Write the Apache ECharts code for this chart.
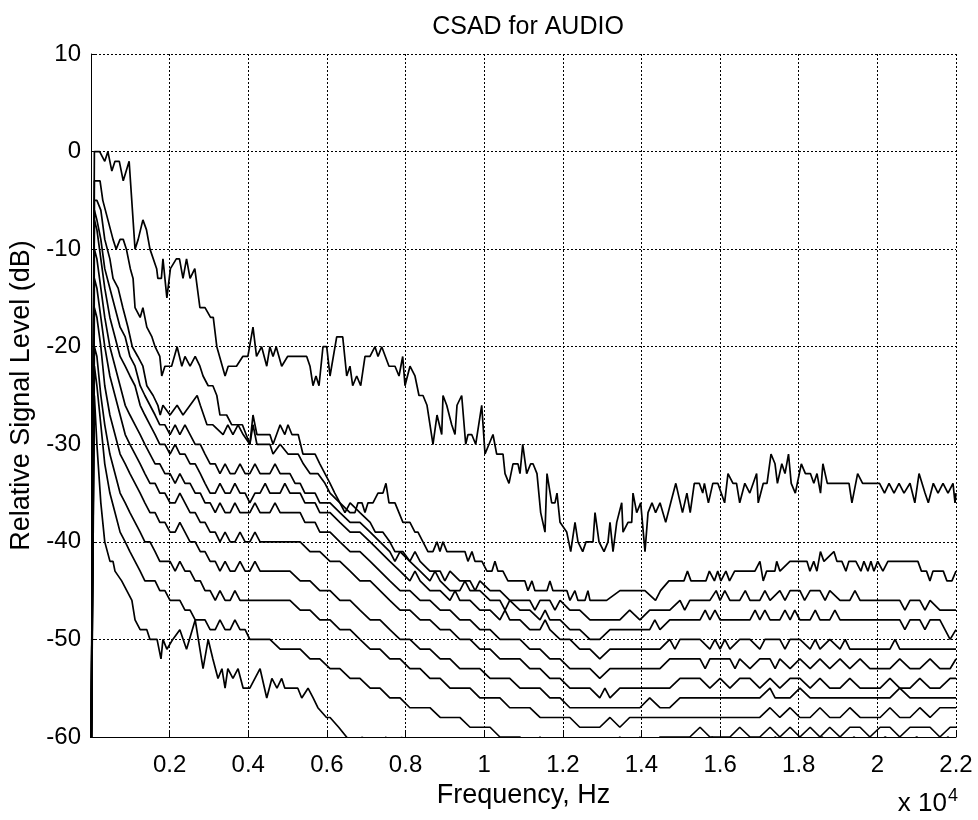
<!DOCTYPE html>
<html>
<head>
<meta charset="utf-8">
<script src="https://cdn.jsdelivr.net/npm/echarts@6/dist/echarts.min.js"></script>
<style>
html,body{margin:0;padding:0;background:#fff;}
#chart{width:978px;height:820px;}
</style>
</head>
<body>
<div id="chart"></div>
<script>
// ---- Data: [frequency Hz, relative level dB] ----
const titleText = "CSAD for AUDIO";
const xLabel = "Frequency, Hz";
const yLabel = "Relative Signal Level (dB)";
const xTickScale = 10000; // labels shown as x 10^4
const yTicks = [10, 0, -10, -20, -30, -40, -50, -60];

const curve1 = [[0,-65],[86,0],[220,0],[350,-1],[430,0],[530,-2],[610,-1],[720,-1],[820,-3],[970,-1],[1120,-10],[1200,-9],[1320,-7],[1410,-8],[1500,-10],[1670,-12],[1700,-13],[1790,-13],[1830,-11],[1930,-15],[2020,-12],[2170,-11],[2250,-11],[2340,-13],[2430,-11],[2520,-13],[2640,-12],[2770,-16],[2900,-16],[3040,-17],[3110,-17],[3200,-20],[3410,-23],[3490,-22],[3700,-22],[3860,-21],[3990,-21],[4120,-18],[4210,-21],[4340,-20],[4470,-22],[4550,-20],[4630,-21],[4710,-20],[4850,-22],[5000,-21],[5150,-21],[5316,-21],[5486,-21],[5570,-22],[5646,-24],[5722,-23],[5799,-24],[5900,-20],[5995,-20],[6079,-23],[6249,-19],[6402,-19],[6504,-23],[6587,-22],[6656,-24],[6758,-23],[6860,-24],[6969,-21],[7096,-21],[7223,-20],[7300,-21],[7394,-20],[7579,-22],[7732,-22],[7834,-23],[7928,-21],[7986,-24],[8113,-22],[8240,-23],[8342,-25],[8444,-25],[8546,-26],[8622,-28],[8698,-30],[8800,-27],[8920,-29],[8953,-25],[9047,-26],[9174,-28],[9258,-29],[9309,-26],[9428,-25],[9530,-30],[9589,-29],[9683,-29],[9784,-30],[9937,-26],[10021,-31],[10224,-29],[10318,-31],[10479,-31],[10530,-33],[10631,-34],[10733,-32],[10860,-32],[10911,-33],[10980,-30],[11081,-33],[11183,-32],[11242,-32],[11343,-33],[11437,-37],[11547,-39],[11598,-33],[11717,-36],[11801,-36],[11852,-35],[11929,-38],[12099,-39],[12201,-41],[12310,-38],[12386,-40],[12506,-41],[12590,-40],[12768,-40],[12819,-37],[12921,-40],[13048,-41],[13149,-40],[13200,-38],[13277,-41],[13371,-38],[13498,-36],[13531,-39],[13658,-38],[13752,-38],[13785,-35],[13879,-37],[13981,-36],[14090,-41],[14167,-37],[14268,-36],[14360,-37],[14472,-36],[14617,-38],[14744,-36],[14874,-34],[15044,-37],[15156,-35],[15240,-37],[15344,-34],[15471,-34],[15558,-35],[15601,-34],[15703,-36],[15815,-34],[15942,-34],[16115,-36],[16201,-33],[16328,-34],[16418,-34],[16499,-36],[16629,-34],[16756,-35],[16929,-33],[16970,-36],[17099,-34],[17194,-34],[17295,-31],[17397,-32],[17458,-34],[17570,-32],[17651,-33],[17740,-31],[17809,-34],[17913,-35],[18066,-32],[18170,-33],[18297,-33],[18384,-34],[18465,-33],[18554,-35],[18615,-32],[18727,-34],[19279,-34],[19353,-36],[19498,-33],[19625,-34],[20055,-34],[20182,-35],[20297,-34],[20424,-35],[20551,-34],[20678,-35],[20830,-34],[20953,-36],[21060,-33],[21212,-35],[21296,-36],[21423,-34],[21543,-35],[21670,-34],[21797,-35],[21924,-34],[21975,-36],[22000,-35]];

const curve2 = [[0,-65],[86,-3],[230,-3],[300,-5],[430,-7],[560,-9],[640,-10],[740,-9],[820,-9],[900,-10],[1000,-12],[1070,-13],[1120,-16],[1250,-17],[1320,-16],[1420,-18],[1550,-19],[1630,-20],[1750,-21],[1800,-23],[1880,-22],[2050,-22],[2190,-20],[2310,-22],[2390,-21],[2520,-22],[2650,-21],[2770,-22],[2850,-23],[2980,-24],[3100,-24],[3200,-25],[3280,-27],[3450,-27],[3580,-28],[3760,-28],[3850,-28],[4040,-30],[4120,-27],[4220,-29],[4550,-29],[4630,-30],[4810,-28],[4930,-29],[5010,-28],[5110,-29],[5270,-29],[5390,-31],[5560,-31],[5700,-31],[5820,-32],[5950,-33],[6080,-34],[6200,-35],[6332,-36],[6587,-37],[6714,-37],[6790,-36],[6892,-36],[6968,-37],[7045,-36],[7172,-36],[7299,-35],[7426,-35],[7502,-34],[7579,-36],[7731,-36],[7934,-38],[8112,-38],[8239,-39],[8316,-39],[8443,-40],[8570,-41],[8697,-41],[8799,-40],[8875,-41],[8951,-40],[9053,-41],[9511,-41],[9587,-42],[9689,-41],[9765,-42],[9943,-42],[10070,-43],[10197,-43],[10274,-42],[10350,-43],[10477,-43],[10604,-44],[11036,-44],[11113,-45],[11215,-44],[11291,-45],[11596,-45],[11672,-44],[11749,-45],[12105,-45],[12181,-46],[12308,-45],[12385,-46],[12563,-46],[12639,-45],[12690,-46],[12944,-46],[13114,-46],[13453,-45],[14088,-45],[14358,-46],[14485,-45],[14699,-44],[15081,-44],[15170,-43],[15259,-44],[15640,-44],[15727,-43],[15856,-44],[15940,-43],[16021,-44],[16148,-43],[16240,-44],[16370,-43],[16886,-43],[17013,-42],[17097,-44],[17183,-43],[17394,-43],[17440,-42],[17522,-43],[17776,-42],[18209,-42],[18285,-43],[18382,-42],[18463,-43],[18552,-41],[18641,-42],[18895,-41],[18971,-42],[19098,-42],[19200,-43],[19276,-42],[19454,-42],[19581,-43],[19658,-42],[19759,-43],[19836,-42],[19912,-43],[20009,-42],[20141,-43],[20268,-42],[21031,-42],[21120,-43],[21250,-43],[21337,-44],[21413,-43],[21677,-43],[21769,-44],[21896,-44],[22000,-43]];

const curve3 = [[0,-65],[86,-5],[150,-5],[250,-6],[350,-9],[480,-11],[560,-13],[690,-14],[810,-16],[940,-18],[1050,-20],[1190,-21],[1320,-22],[1420,-24],[1580,-25],[1700,-26],[1760,-27],[1830,-26],[2010,-27],[2190,-26],[2340,-27],[2520,-26],[2700,-25],[2780,-26],[2950,-28],[3100,-28],[3360,-29],[3480,-28],[3610,-29],[3740,-28],[3870,-29],[4040,-30],[4120,-28],[4220,-30],[4550,-30],[4630,-31],[4810,-30],[5010,-31],[5270,-31],[5400,-32],[5570,-33],[5770,-33],[5950,-34],[6080,-35],[6330,-36],[6460,-37],[6590,-36],[6840,-37],[7100,-38],[7230,-39],[7420,-39],[7600,-40],[7730,-41],[7930,-41],[8110,-42],[8240,-41],[8370,-42],[8620,-43],[8880,-43],[9000,-44],[9130,-43],[9380,-44],[9640,-44],[9770,-45],[9890,-44],[10150,-45],[10400,-45],[10650,-46],[10900,-46],[11160,-46],[11290,-47],[11420,-46],[11670,-46],[11800,-47],[11930,-46],[12180,-47],[12430,-47],[12690,-48],[12940,-48],[13200,-48],[13450,-48],[13700,-47],[13960,-48],[14210,-47],[14470,-47],[14720,-47],[14980,-46],[15100,-47],[15230,-46],[15490,-46],[15740,-46],[15900,-45],[16000,-46],[16120,-45],[16250,-46],[16500,-46],[16640,-45],[16760,-46],[17010,-46],[17140,-45],[17270,-46],[17520,-45],[17650,-46],[17780,-45],[18030,-45],[18150,-46],[18290,-45],[18540,-45],[18670,-46],[18790,-45],[19050,-46],[19300,-46],[19430,-45],[19560,-46],[19810,-46],[20070,-46],[20320,-46],[20570,-46],[20700,-47],[20830,-46],[21080,-46],[21210,-47],[21340,-46],[21590,-47],[21850,-47],[22000,-47]];

const curve4 = [[0,-65],[86,-6],[150,-7],[250,-9],[350,-12],[480,-14],[610,-16],[740,-18],[870,-19],[990,-21],[1120,-22],[1250,-24],[1370,-25],[1500,-26],[1630,-27],[1750,-28],[1880,-28],[2010,-29],[2140,-28],[2260,-29],[2390,-28],[2520,-29],[2650,-30],[2780,-30],[2900,-31],[3030,-32],[3160,-32],[3280,-33],[3410,-32],[3540,-33],[3660,-33],[3790,-32],[3920,-33],[4040,-33],[4170,-32],[4300,-33],[4550,-33],[4680,-32],[4810,-33],[5060,-33],[5190,-34],[5320,-34],[5440,-35],[5700,-35],[5820,-36],[6080,-36],[6330,-37],[6590,-38],[6840,-38],[7100,-39],[7350,-40],[7600,-41],[7730,-42],[7860,-41],[8110,-42],[8370,-43],[8620,-44],[8750,-43],[8880,-44],[9130,-45],[9380,-45],[9510,-44],[9640,-45],[9890,-45],[10150,-46],[10400,-46],[10530,-47],[10650,-46],[10910,-47],[11160,-47],[11420,-48],[11550,-47],[11670,-48],[11930,-48],[12180,-49],[12430,-49],[12690,-50],[12940,-50],[13200,-49],[13450,-49],[13700,-49],[13960,-49],[14210,-49],[14340,-48],[14470,-49],[14720,-48],[14980,-48],[15230,-48],[15490,-48],[15620,-47],[15740,-48],[15870,-47],[16000,-48],[16250,-48],[16500,-48],[16760,-48],[16890,-47],[17010,-48],[17140,-47],[17270,-48],[17520,-48],[17650,-47],[17780,-48],[17900,-47],[18030,-48],[18290,-48],[18420,-47],[18540,-48],[18790,-48],[18920,-47],[19050,-48],[19300,-48],[19560,-48],[19810,-48],[20070,-48],[20320,-48],[20570,-48],[20700,-49],[20830,-48],[21080,-48],[21210,-49],[21340,-48],[21590,-48],[21720,-49],[21850,-50],[22000,-49]];

const curve5 = [[0,-65],[86,-7],[150,-8],[250,-11],[350,-14],[480,-17],[610,-19],[740,-21],[870,-22],[990,-23],[1120,-24],[1250,-26],[1370,-27],[1500,-28],[1630,-29],[1750,-30],[1880,-30],[2010,-31],[2140,-30],[2260,-31],[2390,-31],[2520,-32],[2650,-32],[2780,-33],[2900,-34],[3030,-35],[3160,-35],[3280,-34],[3410,-35],[3540,-35],[3660,-34],[3790,-35],[3920,-35],[4040,-36],[4170,-35],[4300,-35],[4430,-34],[4550,-35],[4810,-35],[4930,-34],[5060,-35],[5320,-35],[5440,-36],[5700,-36],[5820,-37],[6080,-37],[6330,-38],[6590,-39],[6840,-39],[7100,-40],[7350,-41],[7600,-42],[7860,-43],[8110,-44],[8240,-43],[8370,-44],[8620,-45],[8880,-45],[9130,-46],[9260,-45],[9380,-46],[9640,-46],[9890,-47],[10150,-47],[10400,-48],[10530,-47],[10650,-48],[10910,-48],[11160,-49],[11420,-49],[11550,-48],[11670,-49],[11930,-50],[12180,-50],[12430,-51],[12690,-51],[12940,-52],[13200,-51],[13450,-51],[13700,-51],[13960,-51],[14210,-51],[14470,-51],[14720,-50],[14850,-51],[14980,-50],[15230,-50],[15490,-50],[15740,-51],[15870,-50],[16000,-51],[16120,-50],[16250,-51],[16500,-50],[16760,-50],[17010,-51],[17140,-50],[17270,-50],[17520,-50],[17650,-51],[17780,-50],[18030,-50],[18290,-51],[18420,-50],[18540,-51],[18790,-50],[19050,-51],[19180,-50],[19300,-51],[19560,-51],[19810,-51],[20070,-51],[20320,-51],[20450,-50],[20570,-51],[20830,-51],[21080,-51],[21340,-51],[21590,-51],[21850,-51],[22000,-51]];

const curve6 = [[0,-65],[86,-10],[150,-11],[250,-14],[350,-17],[480,-20],[610,-22],[740,-24],[870,-26],[990,-27],[1120,-28],[1250,-29],[1370,-30],[1500,-31],[1630,-32],[1750,-32],[1880,-33],[2010,-33],[2140,-34],[2260,-33],[2390,-34],[2520,-34],[2650,-35],[2780,-35],[2900,-36],[3030,-36],[3160,-37],[3280,-36],[3410,-37],[3540,-37],[3660,-36],[3790,-37],[3920,-37],[4040,-37],[4170,-36],[4300,-37],[4550,-37],[4680,-36],[4810,-37],[5060,-37],[5320,-37],[5440,-38],[5700,-38],[5820,-39],[6080,-39],[6330,-40],[6590,-41],[6840,-41],[7100,-42],[7350,-43],[7600,-44],[7860,-45],[8110,-45],[8370,-46],[8620,-46],[8880,-47],[9130,-47],[9380,-48],[9640,-48],[9890,-49],[10150,-49],[10400,-50],[10650,-50],[10910,-50],[11160,-51],[11420,-51],[11670,-52],[11930,-52],[12180,-53],[12430,-53],[12690,-53],[12940,-54],[13200,-53],[13450,-53],[13700,-53],[13960,-53],[14210,-53],[14470,-53],[14720,-52],[14980,-52],[15230,-52],[15490,-52],[15620,-53],[15740,-52],[16000,-52],[16250,-52],[16380,-53],[16500,-52],[16760,-53],[17010,-52],[17270,-52],[17400,-53],[17520,-52],[17780,-53],[18030,-52],[18290,-53],[18540,-52],[18790,-53],[19050,-52],[19300,-53],[19560,-52],[19810,-53],[20070,-53],[20320,-53],[20570,-52],[20830,-53],[21080,-53],[21340,-52],[21590,-53],[21850,-53],[22000,-52]];

const curve7 = [[0,-65],[86,-13],[150,-14],[250,-17],[350,-20],[480,-23],[610,-25],[740,-27],[870,-29],[990,-30],[1120,-31],[1250,-32],[1370,-33],[1500,-34],[1630,-34],[1750,-35],[1880,-35],[2010,-36],[2140,-36],[2260,-35],[2390,-36],[2520,-37],[2650,-37],[2780,-38],[2900,-38],[3030,-39],[3160,-39],[3280,-40],[3410,-39],[3540,-40],[3660,-40],[3790,-39],[3920,-40],[4040,-40],[4170,-39],[4300,-40],[4550,-40],[4810,-40],[5060,-40],[5320,-40],[5570,-41],[5820,-41],[6080,-42],[6330,-42],[6590,-43],[6840,-44],[7100,-44],[7350,-45],[7600,-46],[7860,-47],[8110,-47],[8370,-48],[8620,-48],[8880,-49],[9130,-49],[9380,-50],[9640,-50],[9890,-51],[10150,-51],[10400,-52],[10650,-52],[10910,-52],[11160,-53],[11420,-53],[11670,-54],[11930,-54],[12180,-55],[12430,-55],[12690,-55],[12940,-56],[13070,-55],[13200,-56],[13450,-55],[13700,-55],[13960,-55],[14210,-55],[14470,-55],[14720,-55],[14980,-54],[15230,-54],[15490,-54],[15740,-55],[16000,-54],[16250,-55],[16500,-54],[16760,-54],[17010,-55],[17270,-54],[17520,-55],[17780,-54],[18030,-54],[18290,-55],[18540,-54],[18790,-55],[19050,-55],[19300,-54],[19560,-55],[19810,-55],[20070,-55],[20320,-54],[20570,-55],[20830,-55],[21080,-54],[21340,-55],[21590,-55],[21850,-54],[22000,-54]];

const curve8 = [[0,-65],[86,-16],[150,-17],[250,-20],[350,-24],[480,-27],[610,-29],[740,-31],[870,-32],[990,-33],[1120,-34],[1250,-35],[1370,-36],[1500,-37],[1630,-37],[1750,-38],[1880,-38],[2010,-39],[2140,-39],[2260,-38],[2390,-39],[2520,-40],[2650,-40],[2780,-41],[2900,-41],[3030,-42],[3160,-42],[3280,-43],[3410,-42],[3540,-43],[3660,-43],[3790,-42],[3920,-43],[4040,-43],[4170,-42],[4300,-43],[4550,-43],[4810,-43],[5060,-43],[5320,-44],[5570,-44],[5820,-45],[6080,-45],[6330,-46],[6590,-46],[6840,-47],[7100,-48],[7350,-48],[7600,-49],[7860,-50],[8110,-50],[8370,-51],[8620,-51],[8880,-52],[9130,-52],[9380,-53],[9640,-53],[9890,-53],[10150,-54],[10400,-54],[10650,-54],[10910,-55],[11160,-55],[11420,-55],[11670,-56],[11930,-56],[12180,-57],[12430,-57],[12690,-57],[12940,-57],[13200,-57],[13450,-57],[13700,-57],[13960,-57],[14210,-56],[14470,-57],[14720,-57],[14980,-56],[15230,-56],[15490,-56],[15740,-56],[16000,-56],[16250,-56],[16500,-56],[16760,-56],[17010,-56],[17270,-55],[17400,-56],[17520,-56],[17780,-56],[18030,-55],[18290,-56],[18540,-56],[18790,-56],[19050,-56],[19300,-56],[19560,-56],[19810,-56],[20070,-56],[20320,-56],[20570,-55],[20830,-56],[21080,-56],[21340,-56],[21590,-56],[21850,-56],[22000,-56]];

const curve9 = [[0,-65],[86,-20],[150,-21],[250,-25],[350,-28],[480,-31],[610,-33],[740,-35],[870,-36],[990,-37],[1120,-38],[1250,-39],[1370,-40],[1500,-40],[1630,-41],[1750,-42],[1880,-42],[2010,-42],[2140,-43],[2260,-42],[2390,-43],[2520,-43],[2650,-44],[2780,-44],[2900,-45],[3030,-45],[3160,-46],[3280,-45],[3410,-46],[3540,-46],[3660,-45],[3790,-46],[3920,-46],[4040,-46],[4300,-46],[4550,-46],[4810,-46],[5060,-46],[5320,-47],[5570,-47],[5820,-48],[6080,-48],[6330,-49],[6590,-49],[6840,-50],[7100,-51],[7350,-51],[7600,-52],[7860,-52],[8110,-53],[8370,-53],[8620,-54],[8880,-54],[9130,-55],[9380,-55],[9640,-55],[9890,-56],[10150,-56],[10400,-56],[10650,-57],[10910,-57],[11160,-57],[11420,-58],[11670,-58],[11930,-58],[12180,-58],[12430,-59],[12690,-59],[12940,-59],[13200,-58],[13450,-59],[13700,-58],[13960,-58],[14210,-58],[14470,-58],[14720,-58],[14980,-58],[15230,-58],[15490,-58],[15740,-58],[16000,-58],[16250,-58],[16500,-58],[16760,-58],[17010,-58],[17270,-57],[17520,-58],[17780,-57],[18030,-58],[18290,-58],[18540,-57],[18790,-58],[19050,-58],[19300,-57],[19560,-58],[19810,-58],[20070,-58],[20320,-57],[20570,-58],[20830,-58],[21080,-57],[21340,-58],[21590,-57],[21850,-57],[22000,-57]];

const curve10 = [[0,-65],[86,-22],[150,-24],[250,-28],[350,-32],[480,-35],[610,-37],[740,-39],[870,-40],[990,-41],[1120,-42],[1250,-43],[1370,-44],[1500,-44],[1630,-44],[1750,-45],[1880,-45],[2010,-46],[2140,-46],[2260,-46],[2390,-47],[2520,-47],[2650,-48],[2780,-48],[2900,-48],[3030,-49],[3160,-49],[3280,-48],[3410,-49],[3540,-49],[3660,-48],[3790,-49],[3920,-49],[4040,-50],[4300,-50],[4550,-50],[4810,-51],[5060,-51],[5320,-51],[5570,-52],[5820,-52],[6080,-53],[6330,-53],[6590,-54],[6840,-54],[7100,-55],[7350,-55],[7600,-56],[7860,-56],[8110,-57],[8370,-57],[8620,-57],[8880,-58],[9130,-58],[9380,-58],[9640,-59],[9890,-59],[10150,-59],[10400,-60],[10650,-60],[10910,-60],[11160,-61],[11420,-60],[11670,-61],[11930,-61],[12180,-61],[12430,-61],[12690,-61],[12940,-61],[13200,-61],[13450,-60],[13700,-61],[13960,-60],[14210,-61],[14470,-60],[14720,-60],[14980,-60],[15230,-60],[15490,-59],[15740,-60],[16000,-60],[16250,-60],[16500,-59],[16760,-60],[17010,-60],[17270,-59],[17520,-60],[17780,-59],[18030,-60],[18290,-59],[18540,-60],[18790,-59],[19050,-60],[19300,-59],[19560,-59],[19810,-60],[20070,-59],[20320,-59],[20570,-60],[20830,-59],[21080,-59],[21340,-59],[21590,-60],[21850,-59],[22000,-59]];

const curve11 = [[0,-65],[86,-25],[150,-30],[250,-36],[350,-40],[483,-42],[560,-42],[610,-43],[780,-44],[910,-45],[1040,-46],[1120,-48],[1250,-49],[1420,-49],[1500,-50],[1680,-50],[1780,-52],[1830,-50],[1930,-51],[2080,-50],[2260,-49],[2430,-51],[2650,-48],[2770,-51],[2850,-53],[2980,-50],[3100,-52],[3230,-54],[3330,-53],[3410,-55],[3480,-53],[3610,-54],[3740,-53],[3870,-55],[4040,-55],[4300,-53],[4470,-56],[4600,-54],[4730,-55],[4850,-54],[4930,-55],[5260,-55],[5360,-56],[5520,-55],[5650,-56],[5770,-57],[5990,-58],[6080,-58],[6300,-59],[6500,-60],[6700,-61],[6900,-60],[7000,-62],[7300,-61],[7500,-60],[7700,-62],[7900,-60],[8000,-62],[8300,-62],[8600,-61],[9000,-63],[9400,-62],[9800,-63],[10200,-61],[10600,-63],[11000,-62],[11400,-63],[11800,-61],[12200,-63],[12600,-62],[13000,-63],[13400,-61],[13800,-62],[14200,-61],[14600,-62],[15000,-61],[15400,-62],[15800,-60],[16200,-62],[16600,-61],[17000,-62],[17400,-60],[17800,-61],[18200,-61],[18600,-60],[19000,-62],[19400,-60],[19800,-61],[20200,-60],[20600,-61],[21000,-60],[21400,-61],[21800,-60],[22000,-61]];

const curves = [curve1, curve2, curve3, curve4, curve5, curve6, curve7, curve8, curve9, curve10, curve11];

const FONT = 'Liberation Sans, Arial, Helvetica, sans-serif';
const chart = echarts.init(document.getElementById('chart'), null, {renderer: 'canvas'});

const dotted = {color: '#000', width: 1, type: [2, 2]};

chart.setOption({
  animation: false,
  backgroundColor: '#fff',
  title: {
    text: titleText, left: 523, top: 10, textAlign: 'center',
    textStyle: {fontFamily: FONT, fontSize: 25, fontWeight: 'normal', color: '#000'}
  },
  grid: {left: 91, right: 22, top: 54, bottom: 83, containLabel: false},
  xAxis: {
    type: 'value', min: 0, max: 22000, interval: 2000,
    name: xLabel, nameLocation: 'middle', nameGap: 40,
    nameTextStyle: {fontFamily: FONT, fontSize: 27, color: '#000'},
    axisLine: {show: true, onZero: false, lineStyle: {color: '#000', width: 1}},
    axisTick: {show: true, inside: true, length: 5, lineStyle: {color: '#000'}},
    axisLabel: {
      fontFamily: FONT, fontSize: 24, color: '#000', margin: 16,
      formatter: v => v === 0 ? '' : String(parseFloat((v / xTickScale).toFixed(1)))
    },
    splitLine: {show: true, lineStyle: dotted}
  },
  yAxis: {
    type: 'value', min: -60, max: 10, interval: 10,
    name: yLabel, nameLocation: 'middle', nameGap: 56, nameRotate: 90,
    nameTextStyle: {fontFamily: FONT, fontSize: 27, color: '#000'},
    axisLine: {show: true, onZero: false, lineStyle: {color: '#000', width: 1}},
    axisTick: {show: true, inside: true, length: 5, lineStyle: {color: '#000'}},
    axisLabel: {fontFamily: FONT, fontSize: 24, color: '#000', margin: 10,
      formatter: v => yTicks.includes(v) ? String(v) : ''},
    splitLine: {show: true, lineStyle: dotted}
  },
  graphic: [{
    type: 'text', right: 20, top: 787,
    style: {
      text: '{a|x 10}{b|4}',
      rich: {
        a: {fontFamily: FONT, fontSize: 26, color: '#000', verticalAlign: 'bottom', lineHeight: 30},
        b: {fontFamily: FONT, fontSize: 18, color: '#000', verticalAlign: 'top', lineHeight: 30, padding: [0, 0, 18, 1]}
      }
    }
  }],
  series: curves.map(c => ({
    type: 'line', data: c, showSymbol: false, clip: true,
    lineStyle: {color: '#000', width: 1.7},
    emphasis: {disabled: true}
  }))
});
</script>
</body>
</html>
